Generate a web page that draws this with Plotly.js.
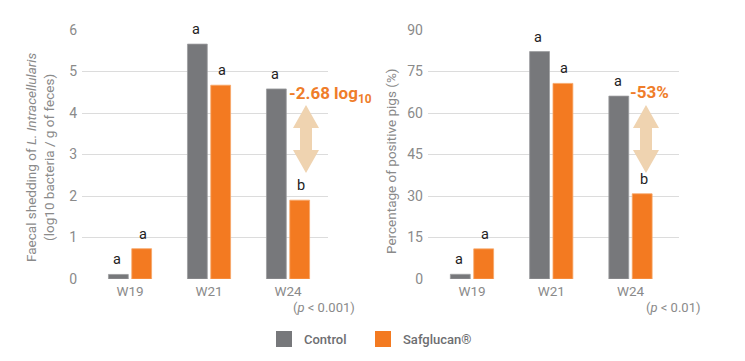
<!DOCTYPE html>
<html>
<head>
<meta charset="utf-8">
<script src="https://cdn.plot.ly/plotly-3.0.1.min.js"></script>
<style>html,body{margin:0;padding:0;background:#fff;}#chart{width:745px;height:361px;}</style>
</head>
<body>
<div id="chart"></div>
<script>
// ---- data ----
const categories = ['W19', 'W21', 'W24'];
const seriesNames = ['Control', 'Safglucan®'];
const sheddingControl = [0.11, 5.66, 4.58];
const sheddingSafglucan = [0.73, 4.67, 1.90];
const positiveControl = [1.7, 82.2, 66.1];
const positiveSafglucan = [10.9, 70.7, 30.8];
const sheddingLettersControl = ['a', 'a', 'a'];
const sheddingLettersSafglucan = ['a', 'a', 'b'];
const positiveLettersControl = ['a', 'a', 'a'];
const positiveLettersSafglucan = ['a', 'a', 'b'];
const sheddingTicks = [0, 1, 2, 3, 4, 5, 6];
const positiveTicks = [0, 15, 30, 45, 60, 75, 90];
const sheddingReduction = '-2.68 log<sub>10</sub>';
const positiveReduction = '-53%';
const sheddingP = '(<i>p</i> < 0.001)';
const positiveP = '(<i>p</i> < 0.01)';

// ---- styles ----
const W = 745, H = 361;
const GREY = '#77787b', ORANGE = '#f37a21', ARROW = '#efd3b0', TXT = '#8a8a8a';
const FONT = 'Roboto, "DejaVu Sans", sans-serif';
const px = x => x / W;
const py = y => 1 - y / H;

const traces = [
  {type: 'bar', name: seriesNames[0], x: categories, y: sheddingControl, xaxis: 'x', yaxis: 'y',
   marker: {color: GREY, line: {color: '#9c9da0', width: 0.8}}, showlegend: false, hoverinfo: 'x+y'},
  {type: 'bar', name: seriesNames[1], x: categories, y: sheddingSafglucan, xaxis: 'x', yaxis: 'y',
   marker: {color: ORANGE, line: {color: '#f8a768', width: 0.8}}, showlegend: false, hoverinfo: 'x+y'},
  {type: 'bar', name: seriesNames[0], x: categories, y: positiveControl, xaxis: 'x2', yaxis: 'y2',
   marker: {color: GREY, line: {color: '#9c9da0', width: 0.8}}, showlegend: false, hoverinfo: 'x+y'},
  {type: 'bar', name: seriesNames[1], x: categories, y: positiveSafglucan, xaxis: 'x2', yaxis: 'y2',
   marker: {color: ORANGE, line: {color: '#f8a768', width: 0.8}}, showlegend: false, hoverinfo: 'x+y'}
];

const yDomain = [py(279), py(30)];
const axisCommon = {
  showline: false, zeroline: false, ticks: '', fixedrange: true,
  tickfont: {family: FONT, size: 13.5, color: TXT}
};

const layout = {
  width: W, height: H,
  margin: {l: 0, r: 0, t: 0, b: 0},
  paper_bgcolor: '#fff', plot_bgcolor: '#fff',
  barmode: 'group', bargap: 0.41, bargroupgap: 0.15,
  font: {family: FONT, color: TXT},
  showlegend: false,
  xaxis: Object.assign({}, axisCommon, {domain: [px(82), px(328)], range: [-0.608, 2.506],
    type: 'category', showgrid: false, anchor: 'y', ticklabelstandoff: 2}),
  yaxis: Object.assign({}, axisCommon, {domain: yDomain, range: [0, 6], tickvals: sheddingTicks,
    showgrid: true, gridcolor: '#dcdcdc', gridwidth: 1, anchor: 'x', ticklabelstandoff: 4,
    tickfont: {family: FONT, size: 14, color: TXT}}),
  xaxis2: Object.assign({}, axisCommon, {domain: [px(428), px(679)], range: [-0.555, 2.612],
    type: 'category', showgrid: false, anchor: 'y2', ticklabelstandoff: 2}),
  yaxis2: Object.assign({}, axisCommon, {domain: yDomain, range: [0, 90], tickvals: positiveTicks,
    showgrid: true, gridcolor: '#dcdcdc', gridwidth: 1, anchor: 'x2', ticklabelstandoff: 4,
    tickfont: {family: FONT, size: 14, color: TXT}}),
  shapes: [],
  annotations: []
};

// significance letters
function addLetters(xref, yref, vals, letters, shift) {
  vals.forEach((v, i) => {
    layout.annotations.push({xref: xref, yref: yref, x: categories[i], y: v, text: letters[i],
      showarrow: false, xshift: shift, yshift: 4, yanchor: 'bottom',
      font: {family: FONT, size: 14.5, color: '#222'}});
  });
}
addLetters('x', 'y', sheddingControl, sheddingLettersControl, -13);
addLetters('x', 'y', sheddingSafglucan, sheddingLettersSafglucan, 13);
addLetters('x2', 'y2', positiveControl, positiveLettersControl, -13);
addLetters('x2', 'y2', positiveSafglucan, positiveLettersSafglucan, 13);

// double arrows
function arrowPath(cx, top, bottom) {
  const hh = 13, sh = 6, hl = 23;
  const pts = [[cx, top], [cx + hh, top + hl], [cx + sh, top + hl], [cx + sh, bottom - hl],
    [cx + hh, bottom - hl], [cx, bottom], [cx - hh, bottom - hl], [cx - sh, bottom - hl],
    [cx - sh, top + hl], [cx - hh, top + hl]];
  return 'M' + pts.map(p => px(p[0]).toFixed(5) + ',' + py(p[1]).toFixed(5)).join(' L') + ' Z';
}
layout.shapes.push({type: 'path', xref: 'paper', yref: 'paper', path: arrowPath(306, 105, 173),
  fillcolor: ARROW, line: {width: 0}});
layout.shapes.push({type: 'path', xref: 'paper', yref: 'paper', path: arrowPath(646, 105, 173),
  fillcolor: ARROW, line: {width: 0}});

// reduction labels
layout.annotations.push({xref: 'paper', yref: 'paper', x: px(287), y: py(95), xanchor: 'left', yanchor: 'middle',
  text: sheddingReduction, showarrow: false, font: {family: FONT, size: 17, color: '#ef7d2a', weight: 700}});
layout.annotations.push({xref: 'paper', yref: 'paper', x: px(628), y: py(92), xanchor: 'left', yanchor: 'middle',
  text: positiveReduction, showarrow: false, font: {family: FONT, size: 17, color: '#ef7d2a', weight: 700}});

// axis titles
layout.annotations.push({xref: 'paper', yref: 'paper', x: px(40), y: py(158), textangle: -90,
  xanchor: 'center', yanchor: 'middle', showarrow: false,
  text: 'Faecal shedding of <i>L. Intracellularis</i><br>(log10 bacteria / g of feces)',
  font: {family: FONT, size: 13.5, color: TXT}});
layout.annotations.push({xref: 'paper', yref: 'paper', x: px(391), y: py(162), textangle: -90,
  xanchor: 'center', yanchor: 'middle', showarrow: false,
  text: 'Percentage of positive pigs (%)',
  font: {family: FONT, size: 13.5, color: TXT}});

// p values
layout.annotations.push({xref: 'paper', yref: 'paper', x: px(357), y: py(307), xanchor: 'right', yanchor: 'middle',
  text: sheddingP, showarrow: false, font: {family: FONT, size: 13, color: TXT}});
layout.annotations.push({xref: 'paper', yref: 'paper', x: px(702), y: py(307), xanchor: 'right', yanchor: 'middle',
  text: positiveP, showarrow: false, font: {family: FONT, size: 13, color: TXT}});

// legend (manual)
const legendItems = [{name: seriesNames[0], color: GREY, x: 276}, {name: seriesNames[1], color: ORANGE, x: 375}];
legendItems.forEach(it => {
  layout.shapes.push({type: 'rect', xref: 'paper', yref: 'paper', x0: px(it.x), x1: px(it.x + 16),
    y0: py(347), y1: py(331), fillcolor: it.color, line: {width: 0}});
  layout.annotations.push({xref: 'paper', yref: 'paper', x: px(it.x + 26), y: py(339), xanchor: 'left',
    yanchor: 'middle', text: it.name, showarrow: false,
    font: {family: FONT, size: 13, color: '#6d6e71', weight: 500}});
});

Plotly.newPlot('chart', traces, layout, {staticPlot: true, displayModeBar: false});
</script>
</body>
</html>
